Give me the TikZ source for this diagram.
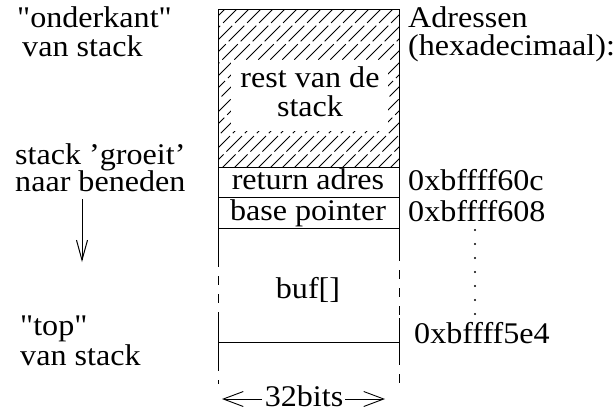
\documentclass[tikz,border=0pt]{standalone}
\usepackage{fontspec}
\setmainfont{Liberation Serif}[Ligatures=TeXOff]
\usetikzlibrary{arrows.meta}
\begin{document}
\begin{tikzpicture}[x=1pt,y=-1pt,
  txt/.style={font=\fontsize{30}{27}\selectfont, xscale=1.07, inner sep=0pt, align=left},
  cell/.style={draw, line width=1pt, minimum width=181pt, inner sep=0pt, anchor=north west},
  side/.style={line width=1pt},
  dside/.style={line width=1pt, dash pattern=on 9pt off 9pt},
  hatch/.style={line width=0.9pt, dash pattern=on 22pt off 4pt},
  barb/.style={line width=0.9pt, -{Straight Barb[length=20pt,width=15pt,line width=0.9pt]}}]
\useasboundingbox (0,0) rectangle (615,413);
% hatching
\begin{scope}
\clip (218,9) rectangle (399,167);
\foreach \s in {40,52,...,400}
  \draw[hatch] (\s,170) -- ++(175,-175);
\end{scope}
\node[cell, minimum height=158pt] (rest) at (218,9) {};
\fill[white] (231,60) rectangle (388,131);
\node[txt, anchor=base] (resttxt1) at (310,87) {rest van de};
\node[txt, anchor=base] (resttxt2) at (310,116) {stack};
\node[cell, minimum height=30pt] (ret) at (218,167) {};
\node[cell, minimum height=31pt] (bp) at (218,197) {};
\node[txt, anchor=base] (rettxt) at (308,189) {return adres};
\node[txt, anchor=base] (bptxt) at (308,220) {base pointer};
\node[txt, anchor=base] (buf) at (308,298) {buf[]};
% sides
\coordinate (l0) at (218,228); \coordinate (l1) at (218,258);
\coordinate (l2) at (218,318); \coordinate (l3) at (218,362);
\coordinate (l4) at (218,384);
\coordinate (r0) at (399,228); \coordinate (r1) at (399,252);
\coordinate (r2) at (399,318); \coordinate (r3) at (399,356);
\coordinate (r4) at (399,384);
\draw[side] (l0) -- (l1); \draw[dside] (l1) -- (l2);
\draw[side] (l2) -- (l3); \draw[dside] (l3) -- (l4);
\draw[side] (r0) -- (r1); \draw[dside] (r1) -- (r2);
\draw[side] (r2) -- (r3); \draw[dside] (r3) -- (r4);
\coordinate (hl) at (218,342); \coordinate (hr) at (399,342);
\draw[side] (hl) -- (hr);
% addresses
\node[txt, anchor=base west] (adr1) at (408,27) {Adressen};
\node[txt, anchor=base west] (adr2) at (408,55) {(hexadecimaal):};
\node[txt, anchor=base west] (a60c) at (408,190) {0xbffff60c};
\node[txt, anchor=base west] (a608) at (408,221) {0xbffff608};
\node[txt, anchor=base west] (a5e4) at (414,343) {0xbffff5e4};
\foreach \y in {230,244,...,314} \fill (475,\y) circle (1.1pt);
% left labels
\node[txt, anchor=base west] (ond) at (17,27) {"onderkant"};
\node[txt, anchor=base west] (vs1) at (22,56) {van stack};
\node[txt, anchor=base west] (gr) at (15,164) {stack ’groeit’};
\node[txt, anchor=base west] (nb) at (15,191) {naar beneden};
\node[txt, anchor=base west] (top) at (20,335) {"top"};
\node[txt, anchor=base west] (vs2) at (20,365) {van stack};
\coordinate (ar0) at (82,199); \coordinate (ar1) at (82,262);
\draw[line width=1pt, -{Straight Barb[length=20pt,width=11pt]}] (ar0) -- (ar1);
% width
\node[txt, anchor=base] (bits) at (304,406) {32bits};
\coordinate (wl0) at (262,399); \coordinate (wl1) at (222,399);
\coordinate (wr0) at (345,399); \coordinate (wr1) at (385,399);
\draw[barb] (wl0) -- (wl1);
\draw[barb] (wr0) -- (wr1);
\end{tikzpicture}
\end{document}
